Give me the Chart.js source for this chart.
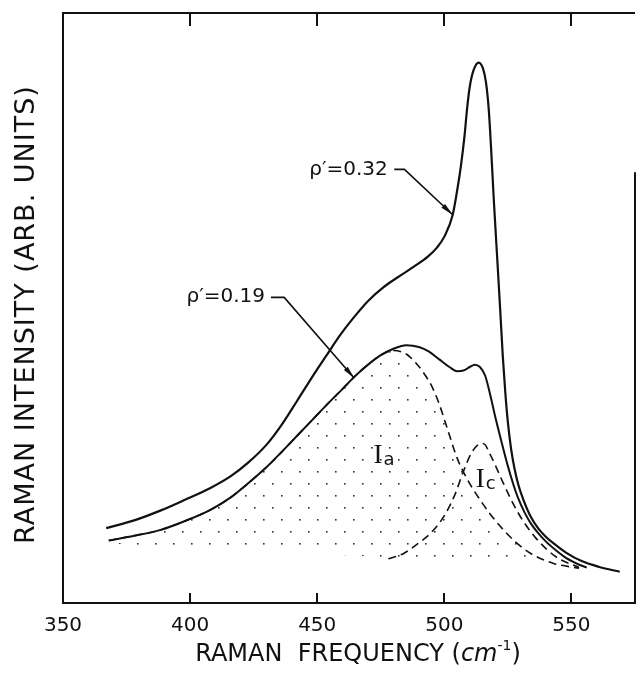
<!DOCTYPE html>
<html>
<head>
<meta charset="utf-8">
<script src="https://cdn.jsdelivr.net/npm/chart.js@4.4.0/dist/chart.umd.min.js"></script>
<style>
  html, body { margin: 0; padding: 0; background: #fff; }
  #wrap { width: 637px; height: 680px; }
</style>
</head>
<body>
<div id="wrap"><canvas id="raman" width="637" height="680"></canvas></div>
<script>
// Frequency axis ticks (cm-1)
const xTicks = [350, 400, 450, 500, 550];

// rho' = 0.32 spectrum
const rho032X = [367, 378, 388.5, 398, 408, 416, 422.6, 430, 436, 442, 448, 454, 459, 464, 470,
    476, 482, 488, 493.5, 497, 500, 503.3, 505.3, 506.5, 507.9, 509, 510, 511.5, 513.5, 515.2,
    516.4, 517.5, 518.4, 519.5, 521, 522, 523, 524, 525, 526.3, 527.6, 529, 531, 534, 537,
    540, 543, 548, 554, 561, 569];
const rho032Y = [12.7, 14, 15.7, 17.5, 19.5, 21.5, 23.7, 26.8, 30.2, 34.2, 38.3, 42.2, 45.4, 48.2, 51.2,
    53.5, 55.3, 57, 58.7, 60.2, 62.1, 65.8, 70.6, 74, 79, 84, 87.5, 90.3, 91.6, 90.6,
    88.2, 83.5, 77, 68, 57, 49.5, 41.8, 35.6, 30.6, 26, 22.8, 20.2, 17.6, 14.6, 12.6,
    11.2, 10.1, 8.5, 7.1, 6.1, 5.3];

// rho' = 0.19 spectrum
const rho019X = [368, 378, 388.5, 398, 408, 416, 422.6, 430, 436, 442, 448, 454, 460, 465, 470,
    475, 480, 485, 490, 494, 498, 502, 505, 507.5, 510, 512, 514, 516, 518, 520,
    522.5, 525, 527, 529, 531.5, 534, 537, 540, 544, 548, 552, 556];
const rho019Y = [10.6, 11.4, 12.4, 13.9, 15.8, 17.9, 20.2, 23, 25.6, 28.3, 31, 33.7, 36.3, 38.5, 40.4,
    42, 43.1, 43.7, 43.4, 42.6, 41.3, 40, 39.3, 39.4, 40, 40.4, 40, 38.6, 35.4, 31.6,
    27.3, 23.2, 20.3, 17.8, 15.4, 13.5, 11.8, 10.4, 8.9, 7.6, 6.7, 6];

// Ia component (amorphous), shaded
const iaX = [368, 378, 388.5, 398, 408, 416, 422.6, 430, 436, 442, 448, 454, 460, 465, 470,
    475, 480, 485, 489, 492, 495, 498, 501, 505, 508, 511, 514.5, 518, 522, 527.6, 534, 543, 553];
const iaY = [10.6, 11.4, 12.4, 13.9, 15.8, 17.9, 20.2, 23, 25.6, 28.3, 31, 33.7, 36.3, 38.5, 40.4,
    42, 42.8, 42.2, 40.6, 38.9, 36.8, 33.7, 29.8, 24.6, 21.8, 19.5, 17.2, 15.1, 13, 10.5, 8.4, 6.7, 5.9];

// Ic component (crystalline)
const icX = [478, 484, 490, 495, 500, 504, 507.5, 510.5, 513, 515.5, 518, 520, 523, 527.6, 531, 536, 544, 553];
const icY = [7.5, 8.4, 10.2, 12, 14.8, 18.2, 22.3, 25.3, 26.7, 27, 25.2, 23.4, 20.5, 16.4, 13.9, 11, 7.8, 6];

// background under the shaded Ia area
const baseX = [368, 400, 434, 480, 520, 556];
const baseY = [10.1, 9.4, 8.7, 7.7, 6.8, 5.9];

const ink = '#111';
const sans = '"DejaVu Sans", sans-serif';

const pts = (xs, ys) => xs.map((x, i) => ({ x, y: ys[i] }));

// dotted shading for Ia
const pc = document.createElement('canvas');
pc.width = 18; pc.height = 24;
const pctx = pc.getContext('2d');
pctx.fillStyle = '#333';
pctx.fillRect(2, 3, 1.6, 1.6);
pctx.fillRect(11, 15, 1.6, 1.6);
const canvas = document.getElementById('raman');
const dots = canvas.getContext('2d').createPattern(pc, 'repeat');

// labels with leader arrows
const rhoNotes = [
    { text: 'ρ′=0.32', at: [462.3, 73.4], path: [[480.3, 73.5], [484.3, 73.5], [503.3, 65.8]] },
    { text: 'ρ′=0.19', at: [414, 51.9], path: [[431.8, 51.8], [437, 51.8], [464.6, 38.1]] }
];
const bandNotes = [
    { main: 'I', sub: 'a', at: [473.9, 23.7] },
    { main: 'I', sub: 'c', at: [514.1, 19.7] }
];

const decor = {
    id: 'decor',
    afterDatasetsDraw(chart) {
        const { ctx, chartArea: a, scales: { x, y } } = chart;
        ctx.save();
        ctx.strokeStyle = ink;
        ctx.fillStyle = ink;

        // frame (right side open near the top, as in the original)
        ctx.lineWidth = 2;
        ctx.beginPath();
        ctx.moveTo(a.right, a.top);
        ctx.lineTo(a.left, a.top);
        ctx.lineTo(a.left, a.bottom);
        ctx.lineTo(a.right, a.bottom);
        ctx.lineTo(a.right, y.getPixelForValue(73));
        ctx.stroke();

        // inward ticks top and bottom
        xTicks.slice(1).forEach(v => {
            const px = Math.round(x.getPixelForValue(v));
            ctx.beginPath();
            ctx.moveTo(px, a.bottom); ctx.lineTo(px, a.bottom - 10);
            ctx.moveTo(px, a.top); ctx.lineTo(px, a.top + 13);
            ctx.stroke();
        });

        // rho labels + arrows
        ctx.lineWidth = 1.6;
        rhoNotes.forEach(n => {
            ctx.font = '20px ' + sans;
            ctx.textAlign = 'center';
            ctx.textBaseline = 'middle';
            ctx.fillText(n.text, x.getPixelForValue(n.at[0]), y.getPixelForValue(n.at[1]));
            const p = n.path.map(([vx, vy]) => [x.getPixelForValue(vx), y.getPixelForValue(vy)]);
            ctx.beginPath();
            ctx.moveTo(p[0][0], p[0][1]);
            p.slice(1).forEach(q => ctx.lineTo(q[0], q[1]));
            ctx.stroke();
            const [tx, ty] = p[p.length - 1];
            const [sx, sy] = p[p.length - 2];
            const ang = Math.atan2(ty - sy, tx - sx);
            ctx.save();
            ctx.translate(tx, ty);
            ctx.rotate(ang);
            ctx.beginPath();
            ctx.moveTo(0, 0);
            ctx.lineTo(-13, -2.6);
            ctx.lineTo(-13, 2.6);
            ctx.closePath();
            ctx.fill();
            ctx.restore();
        });

        // Ia / Ic
        bandNotes.forEach(n => {
            const px = x.getPixelForValue(n.at[0]);
            const py = y.getPixelForValue(n.at[1]);
            ctx.textBaseline = 'alphabetic';
            ctx.textAlign = 'center';
            ctx.font = '27px "Liberation Serif", serif';
            ctx.fillText(n.main, px, py);
            const w = ctx.measureText(n.main).width;
            ctx.textAlign = 'left';
            ctx.font = '18px ' + sans;
            ctx.fillText(n.sub, px + w / 2 + 1, py + 2);
        });

        // y axis title
        ctx.save();
        ctx.translate(27, 314.5);
        ctx.rotate(-Math.PI / 2);
        ctx.font = '27px ' + sans;
        ctx.letterSpacing = '1px';
        ctx.textAlign = 'center';
        ctx.textBaseline = 'middle';
        ctx.fillText('RAMAN INTENSITY (ARB. UNITS)', 0, 0);
        ctx.restore();

        // x axis title with italic unit
        const parts = [
            ['RAMAN  FREQUENCY (', '24px ' + sans, 0],
            ['cm', 'italic 24px ' + sans, 0],
            ['-1', '14px ' + sans, -9],
            [')', '24px ' + sans, 0]
        ];
        let total = 0;
        parts.forEach(pt => { ctx.font = pt[1]; total += ctx.measureText(pt[0]).width; });
        let cx = 358 - total / 2;
        ctx.textAlign = 'left';
        ctx.textBaseline = 'middle';
        parts.forEach(pt => {
            ctx.font = pt[1];
            ctx.fillText(pt[0], cx, 655 + pt[2]);
            cx += ctx.measureText(pt[0]).width;
        });
        ctx.restore();
    }
};

const lineStyle = {
    borderColor: ink,
    pointRadius: 0,
    fill: false,
    tension: 0.4,
    cubicInterpolationMode: 'monotone'
};

new Chart(canvas, {
    type: 'line',
    data: {
        datasets: [
            { ...lineStyle, label: 'base', data: pts(baseX, baseY), borderWidth: 0, borderColor: 'rgba(0,0,0,0)' },
            { ...lineStyle, label: 'Ia', data: pts(iaX, iaY), borderWidth: 1.6, borderDash: [8, 5],
              fill: { target: 0 }, backgroundColor: dots },
            { ...lineStyle, label: 'Ic', data: pts(icX, icY), borderWidth: 1.6, borderDash: [8, 5] },
            { ...lineStyle, label: "ρ'=0.19", data: pts(rho019X, rho019Y), borderWidth: 2 },
            { ...lineStyle, label: "ρ'=0.32", data: pts(rho032X, rho032Y), borderWidth: 2.2 }
        ]
    },
    options: {
        responsive: false,
        animation: false,
        layout: { padding: { top: 13, right: 2, left: 0, bottom: 0 } },
        plugins: { legend: { display: false }, tooltip: { enabled: false } },
        scales: {
            x: {
                type: 'linear',
                min: 350,
                max: 575,
                afterBuildTicks: s => { s.ticks = xTicks.map(v => ({ value: v })); },
                afterFit: s => { s.height = 77; },
                grid: { display: false, drawTicks: false },
                border: { display: false },
                ticks: { color: ink, font: { family: sans, size: 20 }, padding: 11, maxRotation: 0, autoSkip: false }
            },
            y: {
                min: 0,
                max: 100,
                afterFit: s => { s.width = 63; },
                grid: { display: false, drawTicks: false },
                border: { display: false },
                ticks: { display: false }
            }
        }
    },
    plugins: [decor]
});
</script>
</body>
</html>
